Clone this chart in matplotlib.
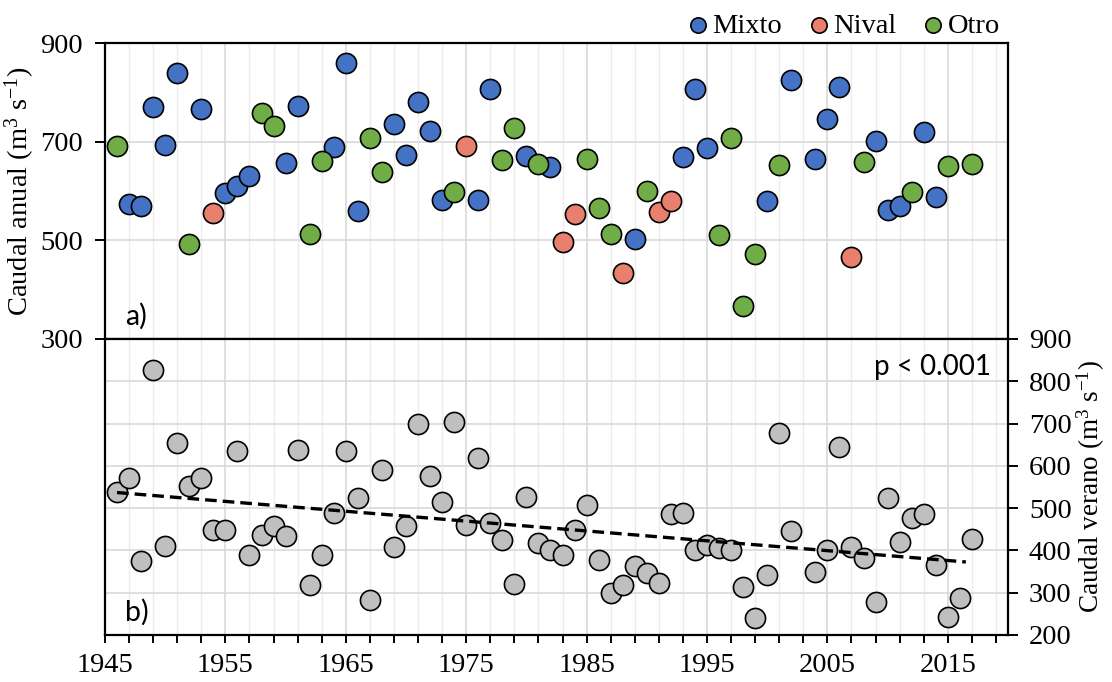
import matplotlib.pyplot as plt
import numpy as np

# annual flow, coloured by regime (no value for 2003 and 2016)
years_a = list(range(1946, 2003)) + list(range(2004, 2016)) + [2017]
annual = [692, 573, 570, 771, 693, 839, 492, 767, 556, 596,
          611, 631, 758, 733, 657, 773, 514, 661, 690, 861,
          559, 708, 638, 736, 674, 780, 722, 583, 598, 692,
          583, 807, 663, 728, 672, 656, 649, 497, 554, 666,
          566, 514, 434, 503, 600, 558, 579, 669, 807, 688,
          512, 708, 366, 473, 579, 654, 825,
          665, 746, 812, 467, 659, 702, 562, 569, 598, 720, 588, 651,
          656]
regime = ['O', 'M', 'M', 'M', 'M', 'M', 'O', 'M', 'N', 'M',
          'M', 'M', 'O', 'O', 'M', 'M', 'O', 'O', 'M', 'M',
          'M', 'O', 'O', 'M', 'M', 'M', 'M', 'M', 'O', 'N',
          'M', 'M', 'O', 'O', 'M', 'O', 'M', 'N', 'N', 'O',
          'O', 'O', 'N', 'M', 'O', 'N', 'N', 'M', 'M', 'M',
          'O', 'O', 'O', 'O', 'M', 'O', 'M',
          'M', 'M', 'M', 'N', 'O', 'M', 'M', 'M', 'O', 'M', 'M', 'O',
          'O']

# summer flow (no value for 2003)
years_s = list(range(1946, 2003)) + list(range(2004, 2018))
summer = [537, 572, 376, 827, 411, 655, 553, 572, 449, 449,
          635, 390, 437, 457, 435, 637, 319, 390, 488, 635,
          523, 282, 590, 409, 457, 700, 576, 515, 704, 460,
          619, 466, 425, 321, 527, 417, 400, 389, 449, 507,
          378, 300, 318, 363, 347, 323, 485, 489, 400, 414,
          406, 400, 314, 241, 343, 677, 447,
          349, 402, 644, 408, 382, 278, 525, 419, 477, 486, 366, 243, 288, 427]

groups = ['M', 'N', 'O']
group_names = ['Mixto', 'Nival', 'Otro']
group_colors = ['#4472C4', '#E8806D', '#70AD47']

plt.rcParams['font.family'] = 'Liberation Serif'
plt.rcParams['mathtext.fontset'] = 'custom'
plt.rcParams['mathtext.rm'] = 'Liberation Serif'
plt.rcParams['mathtext.it'] = 'Liberation Serif:italic'

FS = 20.5

fig = plt.figure(figsize=(11.12, 6.82), dpi=100)
L, W = 105 / 1112, (1008 - 105) / 1112
ax1 = fig.add_axes([L, 1 - 339 / 682, W, (339 - 43.3) / 682])
ax2 = fig.add_axes([L, 1 - 635 / 682, W, (635 - 339) / 682])

xmaj = np.arange(1945, 2021, 10)
xmin = np.arange(1945, 2021, 2)

for ax in (ax1, ax2):
    ax.set_xlim(1945, 2020)
    ax.set_xticks(xmaj)
    ax.set_xticks(xmin, minor=True)
    ax.grid(True, which='minor', axis='x', color='#ececec', lw=1, zorder=0)
    ax.grid(True, which='major', axis='x', color='#d9d9d9', lw=1.2, zorder=0)
    ax.grid(True, which='major', axis='y', color='#d9d9d9', lw=1.2, zorder=0)
    ax.set_axisbelow(True)
    for s in ax.spines.values():
        s.set_linewidth(1.6)

# top panel
ann = np.array(annual)
yr_a = np.array(years_a)
reg = np.array(regime)
for g, name, col in zip(groups, group_names, group_colors):
    m = reg == g
    ax1.scatter(yr_a[m], ann[m], s=210, color=col, edgecolor='black',
                linewidth=1.2, zorder=3, label=name)
ax1.set_ylim(300, 900)
ax1.set_yticks([300, 500, 700, 900])
ax1.tick_params(axis='y', labelsize=FS, direction='out', length=7, width=1.4, pad=9)
ax1.tick_params(axis='x', which='both', bottom=False, labelbottom=False)
ax1.set_ylabel(r'Caudal anual (m$^3$ s$^{-1}$)', fontsize=FS, labelpad=2)
ax1.text(0.022, 0.03, 'a)', transform=ax1.transAxes, fontsize=FS,
         family='Lato', ha='left', va='bottom')

fig.legend(loc='center right', bbox_to_anchor=(0.912, 0.962), ncol=3,
           frameon=False, fontsize=20.5, handletextpad=0.0, columnspacing=0.8,
           markerscale=0.76, borderpad=0, handlelength=1.0)

# bottom panel
yr_s = np.array(years_s)
sm = np.array(summer)
ax2.scatter(yr_s, sm, s=210, color='#BFBFBF', edgecolor='black',
            linewidth=1.2, zorder=3)
coef = np.polyfit(yr_s, sm, 1)
tx = np.array([yr_s[0], yr_s[-1] - 0.5])
ax2.plot(tx, np.polyval(coef, tx), color='black', lw=2.4, ls=(0, (3.5, 1.8)), zorder=4)
ax2.set_ylim(200, 900)
ax2.set_yticks(np.arange(200, 901, 100))
ax2.yaxis.tick_right()
ax2.yaxis.set_label_position('right')
ax2.tick_params(axis='y', labelsize=FS, direction='out', length=7, width=1.4, pad=8)
ax2.tick_params(axis='x', which='both', labelsize=FS, direction='out',
                length=6, width=1.4, pad=7)
ax2.set_ylabel(r'Caudal verano (m$^3$ s$^{-1}$)', fontsize=19.5, labelpad=2.5)
ax2.text(0.022, 0.03, 'b)', transform=ax2.transAxes, fontsize=FS,
         family='Lato', ha='left', va='bottom')
ax2.text(0.981, 0.905, 'p < 0.001', transform=ax2.transAxes, fontsize=20,
         family='Lato', ha='right', va='center')

fig.savefig('out.png', dpi=100)
